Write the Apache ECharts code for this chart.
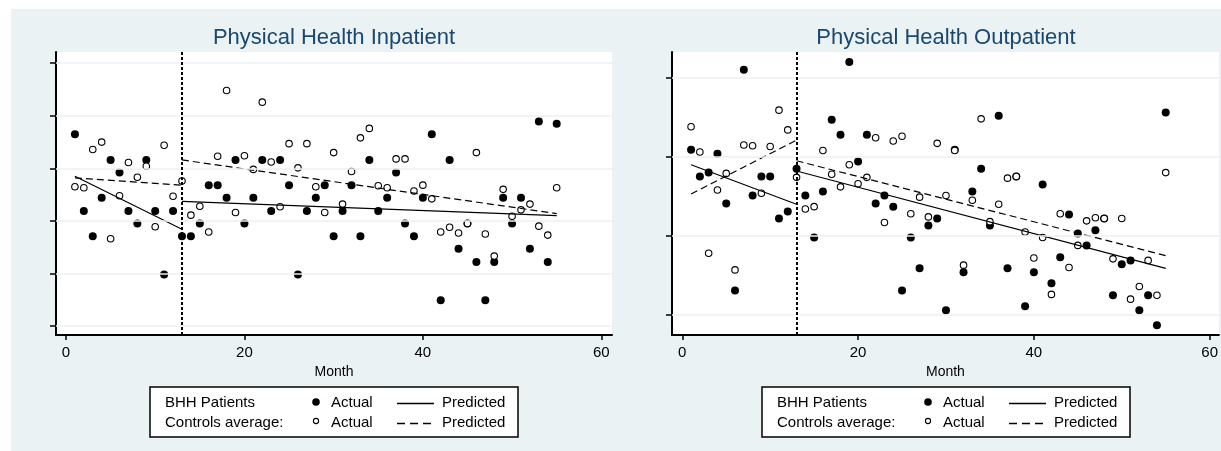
<!DOCTYPE html>
<html><head><meta charset="utf-8">
<script src="https://cdn.jsdelivr.net/npm/echarts@6/dist/echarts.min.js"></script>
<style>html,body{margin:0;padding:0;background:#fff}#c{width:1221px;height:451px}</style>
</head><body><div id="c"></div>
<script>
// ---------- data ----------
const months = Array.from({length: 55}, (_, i) => i + 1);
const inpActual = [3.65,2.19,1.71,2.44,3.16,2.92,2.19,1.95,3.16,2.19,0.98,2.19,1.71,1.71,1.95,2.68,2.68,2.44,3.16,1.95,2.44,3.16,2.19,3.16,2.68,0.98,2.19,2.44,2.68,1.71,2.19,2.68,1.71,3.16,2.19,2.44,2.92,1.95,1.71,2.44,3.65,0.49,3.16,1.47,1.95,1.22,0.49,1.22,2.44,1.95,2.44,1.47,3.89,1.22,3.85];
const inpControls = [2.65,2.63,3.36,3.50,1.66,2.48,3.11,2.83,3.04,1.89,3.44,2.47,2.76,2.11,2.28,1.79,3.23,4.48,2.16,3.24,2.98,4.26,3.12,2.27,3.47,3.01,3.47,2.65,2.16,3.30,2.32,2.94,3.58,3.76,2.67,2.63,3.18,3.18,2.57,2.68,2.42,1.79,1.88,1.77,1.95,3.30,1.75,1.33,2.60,2.09,2.21,2.32,1.90,1.73,2.63];
const outActual = [2.09,1.75,1.80,2.04,1.41,0.31,3.10,1.51,1.75,1.75,1.22,1.31,1.85,1.51,0.98,1.56,2.47,2.28,3.20,1.94,2.28,1.41,1.51,1.37,0.31,0.98,0.59,1.13,1.22,0.06,2.09,0.54,1.56,1.85,1.13,2.52,0.59,1.75,0.11,0.54,1.65,0.40,0.73,1.27,1.03,0.88,1.07,1.22,0.25,0.64,0.69,0.06,0.25,-0.13,2.56];
const outControls = [2.38,2.06,0.78,1.58,1.79,0.57,2.15,2.14,1.54,2.13,2.59,2.34,1.74,1.34,1.37,2.08,1.78,1.62,1.90,1.66,1.74,2.24,1.17,2.20,2.26,1.28,1.49,1.24,2.17,1.51,2.08,0.63,1.45,2.48,1.18,1.40,1.73,1.75,1.05,0.72,0.98,0.26,1.28,0.60,0.88,1.19,1.23,1.22,0.71,1.22,0.20,0.36,0.69,0.25,1.80];
// predicted segments [month, value]
const inpPredActualPre = [[1,2.85],[13,1.84]];
const inpPredActualPost = [[13,2.37],[55,2.10]];
const inpPredCtrlPre = [[1,2.82],[13,2.68]];
const inpPredCtrlPost = [[13,3.16],[55,2.14]];
const outPredActualPre = [[1,1.90],[13,1.40]];
const outPredActualPost = [[13,1.82],[55,0.59]];
const outPredCtrlPre = [[1,1.53],[13,2.21]];
const outPredCtrlPost = [[13,1.95],[55,0.75]];
const xTicks = [0,20,40,60];
const inpYTicks = [0,1,2,3,4,5];
const outYTicks = [0,1,2,3];
const interruption = 13;
const titles = ['Physical Health Inpatient','Physical Health Outpatient'];

// ---------- chart ----------
const FONT = "'Liberation Sans', Arial, sans-serif";
const BG = '#eaf2f3';
const pts = arr => months.map((m, i) => [m, arr[i]]);

function xAxis(idx, min, max) {
  return {
    type: 'value', gridIndex: idx, min: min, max: max,
    name: 'Month', nameLocation: 'middle', nameGap: 26,
    nameTextStyle: {color: '#000', fontSize: 14, fontFamily: FONT},
    axisLine: {show: true, onZero: false, lineStyle: {color: '#000', width: 2}},
    axisTick: {show: true, length: 5, customValues: xTicks, lineStyle: {color: '#000', width: 1.5}},
    axisLabel: {show: true, customValues: xTicks, margin: 10, color: '#000', fontSize: 15, fontFamily: FONT},
    splitLine: {show: false}
  };
}
function yAxis(idx, min, max, ticks) {
  return {
    type: 'value', gridIndex: idx, min: min, max: max,
    axisLine: {show: true, onZero: false, lineStyle: {color: '#000', width: 2}},
    axisTick: {show: true, length: 6, customValues: ticks, lineStyle: {color: '#000', width: 1.5}},
    axisLabel: {show: false},
    splitLine: {show: false}
  };
}
function panelSeries(idx, actual, controls, aPre, aPost, cPre, cPost, yTicks) {
  const ax = {xAxisIndex: idx, yAxisIndex: idx};
  const line = (d, dashed) => Object.assign({
    type: 'line', data: d, symbol: 'none', silent: true, z: 4,
    lineStyle: {color: '#000', width: 1.2, opacity: 1, type: dashed ? [7, 4] : 'solid'}
  }, ax);
  return [
    Object.assign({type: 'scatter', data: [], silent: true, z: 1,
      markLine: {silent: true, symbol: 'none', label: {show: false},
        lineStyle: {color: BG, type: 'solid', width: 1.6, opacity: 1},
        data: yTicks.map(v => ({yAxis: v}))}}, ax),
    Object.assign({type: 'scatter', data: pts(actual), symbol: 'circle', symbolSize: 8, z: 3,
      itemStyle: {color: '#000', opacity: 1}}, ax),
    Object.assign({type: 'scatter', data: pts(controls), symbol: 'circle', symbolSize: 6.5, z: 3,
      itemStyle: {color: '#fff', borderColor: '#000', borderWidth: 1.1, opacity: 1}}, ax),
    line(aPre, false), line(aPost, false), line(cPre, true), line(cPost, true),
    Object.assign({type: 'scatter', data: [], silent: true, z: 5,
      markLine: {silent: true, symbol: 'none', label: {show: false},
        lineStyle: {color: '#000', type: [3, 2], width: 2, opacity: 1},
        data: [{xAxis: interruption}]}}, ax)
  ];
}
function legendGraphic(L) {
  const T = 387, r1 = 403, r2 = 423;
  const txt = (x, y, s) => ({type: 'text', x: x, y: y, style: {text: s, fill: '#000', font: '15px ' + FONT, textVerticalAlign: 'middle'}});
  return [
    {type: 'rect', shape: {x: L, y: T, width: 368, height: 50}, style: {fill: '#fff', stroke: '#000', lineWidth: 1.5}},
    txt(L + 15, r1, 'BHH Patients'),
    txt(L + 15, r2, 'Controls average:'),
    {type: 'circle', shape: {cx: L + 166, cy: r1 - 1, r: 3.8}, style: {fill: '#000'}},
    {type: 'circle', shape: {cx: L + 166, cy: r2 - 2, r: 2.6}, style: {fill: '#fff', stroke: '#000', lineWidth: 1.1}},
    txt(L + 181, r1, 'Actual'),
    txt(L + 181, r2, 'Actual'),
    {type: 'line', shape: {x1: L + 247, y1: r1 + 0.5, x2: L + 284, y2: r1 + 0.5}, style: {stroke: '#000', lineWidth: 1.5}},
    {type: 'line', shape: {x1: L + 247, y1: r2 + 0.5, x2: L + 284, y2: r2 + 0.5}, style: {stroke: '#000', lineWidth: 1.5, lineDash: [8, 5]}},
    txt(L + 292, r1, 'Predicted'),
    txt(L + 292, r2, 'Predicted')
  ];
}

const chart = echarts.init(document.getElementById('c'), null, {renderer: 'canvas'});
chart.setOption({
  backgroundColor: BG,
  animation: false,
  title: [
    {text: titles[0], left: 334, top: 27, textAlign: 'center', padding: 0,
      textStyle: {color: '#1a476f', fontSize: 22, fontWeight: 'normal', fontFamily: FONT}},
    {text: titles[1], left: 946, top: 27, textAlign: 'center', padding: 0,
      textStyle: {color: '#1a476f', fontSize: 22, fontWeight: 'normal', fontFamily: FONT}}
  ],
  grid: [
    {left: 56, top: 52, width: 556, height: 283, show: true, backgroundColor: '#fff', borderWidth: 0, containLabel: false},
    {left: 672, top: 52, width: 549, height: 283, show: true, backgroundColor: '#fff', borderWidth: 0, containLabel: false}
  ],
  xAxis: [xAxis(0, -1.12, 61.2), xAxis(1, -1.17, 61.05)],
  yAxis: [yAxis(0, -0.171, 5.214, inpYTicks), yAxis(1, -0.253, 3.325, outYTicks)],
  series: [].concat(
    panelSeries(0, inpActual, inpControls, inpPredActualPre, inpPredActualPost, inpPredCtrlPre, inpPredCtrlPost, inpYTicks),
    panelSeries(1, outActual, outControls, outPredActualPre, outPredActualPost, outPredCtrlPre, outPredCtrlPost, outYTicks)
  ),
  graphic: [
    {type: 'rect', shape: {x: 0, y: 0, width: 1221, height: 9}, style: {fill: '#fff'}, silent: true},
    {type: 'rect', shape: {x: 0, y: 0, width: 11, height: 451}, style: {fill: '#fff'}, silent: true}
  ].concat(legendGraphic(150), legendGraphic(762))
});
</script>
</body></html>
